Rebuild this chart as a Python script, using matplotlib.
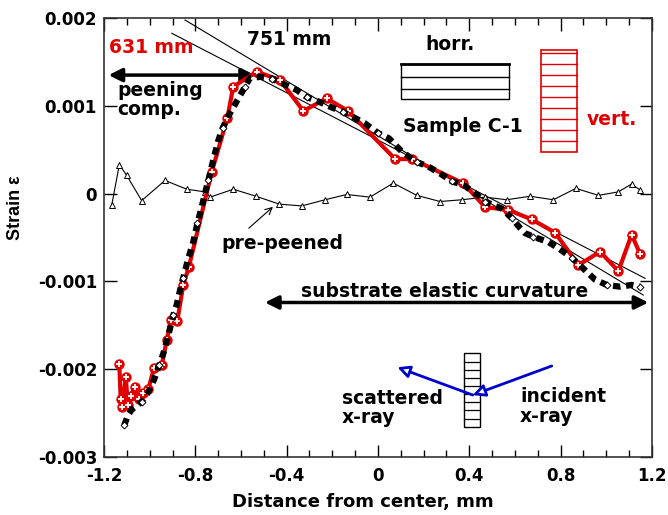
import numpy as np
import matplotlib
matplotlib.use('Agg')
import matplotlib.pyplot as plt
from matplotlib.patches import Rectangle

plt.rcParams['font.family'] = ['DejaVu Sans']
plt.rcParams['font.weight'] = 'bold'

# 631 mm (vert.) red series
x_631 = [-1.133, -1.127, -1.120, -1.105, -1.095, -1.082, -1.066, -1.045, -1.028, -1.006,
         -0.981, -0.947, -0.925, -0.907, -0.879, -0.853, -0.828, -0.728, -0.660, -0.634,
         -0.531, -0.429, -0.327, -0.225, -0.131, 0.075, 0.149, 0.374, 0.469, 0.571,
         0.673, 0.775, 0.878, 0.973, 1.053, 1.111, 1.148]
y_631 = [-1.944, -2.339, -2.427, -2.092, -2.408, -2.305, -2.199, -2.343, -2.268, -2.226,
         -1.990, -1.952, -1.667, -1.440, -1.451, -1.041, -0.833, 0.249, 0.858, 1.218,
         1.388, 1.294, 0.941, 1.085, 0.941, 0.394, 0.394, 0.117, -0.153, -0.187,
         -0.293, -0.443, -0.813, -0.662, -0.882, -0.466, -0.688]

# 751 mm (horr.) black series
x_751 = [-1.112, -1.094, -1.079, -1.035, -1.006, -0.981, -0.958, -0.940, -0.918, -0.896,
         -0.882, -0.867, -0.853, -0.831, -0.809, -0.791, -0.772, -0.758, -0.743, -0.720,
         -0.700, -0.680, -0.656, -0.619, -0.582, -0.560, -0.510, -0.465, -0.407, -0.356,
         -0.312, -0.261, -0.210, -0.153, -0.100, -0.057, 0.000, 0.048, 0.104, 0.169,
         0.219, 0.272, 0.323, 0.374, 0.438, 0.469, 0.505, 0.542, 0.586, 0.622,
         0.644, 0.679, 0.745, 0.789, 0.849, 0.898, 0.951, 1.002, 1.060, 1.111, 1.148]
y_751 = [-2.64, -2.52, -2.46, -2.37, -2.26, -2.12, -1.95, -1.82, -1.61, -1.38,
         -1.27, -1.10, -0.96, -0.74, -0.55, -0.34, -0.15, 0.00, 0.15, 0.40,
         0.60, 0.75, 0.88, 1.05, 1.22, 1.32, 1.33, 1.31, 1.24, 1.18,
         1.10, 1.05, 0.99, 0.93, 0.86, 0.80, 0.69, 0.63, 0.48, 0.36,
         0.31, 0.23, 0.14, 0.10, -0.02, -0.09, -0.13, -0.17, -0.28, -0.39,
         -0.45, -0.49, -0.55, -0.62, -0.73, -0.85, -0.98, -1.04, -1.06, -1.04, -1.06]

# pre-peened
x_pre = [-1.166, -1.133, -1.101, -1.035, -0.933, -0.837, -0.758, -0.735, -0.634, -0.534,
         -0.432, -0.334, -0.232, -0.137, -0.035, 0.067, 0.170, 0.272, 0.367, 0.469,
         0.564, 0.666, 0.768, 0.867, 0.965, 1.053, 1.111, 1.148]
y_pre = [-0.13, 0.33, 0.21, -0.08, 0.15, 0.05, 0.02, -0.04, 0.05, -0.03,
         -0.12, -0.14, -0.07, -0.01, -0.04, 0.12, -0.02, -0.09, -0.07, -0.04,
         -0.07, -0.03, -0.07, 0.06, -0.02, 0.02, 0.11, 0.04]

# straight-line fits (end points)
fit1_x = [-0.845, 1.162]
fit1_y = [1.977, -1.155]
fit2_x = [-0.903, 1.170]
fit2_y = [1.826, -0.965]

s = 1e-3
fs = 13.5
fig, ax = plt.subplots(figsize=(6.68, 5.15), dpi=100)
fig.subplots_adjust(left=0.1557, right=0.976, bottom=0.1126, top=0.965)

ax.plot(fit1_x, np.array(fit1_y) * s, color='k', lw=0.8, zorder=2)
ax.plot(fit2_x, np.array(fit2_y) * s, color='k', lw=0.8, zorder=2)

ax.plot(x_pre, np.array(y_pre) * s, color='k', lw=0.8, marker='^', ms=5,
        mfc='white', mec='k', mew=0.7, zorder=3)

ax.plot(x_631, np.array(y_631) * s, color='#e00000', lw=3, marker='o', ms=6.5,
        mfc='#e00000', mec='#e00000', zorder=4)
ax.plot(x_631, np.array(y_631) * s, ls='none', marker='+', ms=4, mew=1.3,
        color='white', zorder=5)

ax.plot(x_751, np.array(y_751) * s, color='k', lw=4.5, ls=(0, (1.2, 0.9)), zorder=6)
ax.plot(x_751[::3], np.array(y_751[::3]) * s, ls='none', marker='D', ms=3.5,
        mfc='white', mec='k', mew=0.7, zorder=7)

ax.set_xlim(-1.2, 1.2)
ax.set_ylim(-0.003, 0.002)
ax.set_xticks([-1.2, -0.8, -0.4, 0, 0.4, 0.8, 1.2])
ax.set_xticklabels(['-1.2', '-0.8', '-0.4', '0', '0.4', '0.8', '1.2'])
ax.set_xticks(np.arange(-1.2, 1.21, 0.1), minor=True)
ax.set_yticks([-0.003, -0.002, -0.001, 0, 0.001, 0.002])
ax.set_yticklabels(['-0.003', '-0.002', '-0.001', '0', '0.001', '0.002'])
ax.tick_params(which='both', direction='in', top=True, right=True, labelsize=12, width=1)
ax.tick_params(which='major', length=9)
ax.tick_params(which='minor', length=5)
ax.tick_params(axis='x', pad=7)
ax.tick_params(axis='y', pad=5)
for sp in ax.spines.values():
    sp.set_linewidth(1.2)
    sp.set_color('#333333')

ax.set_xlabel('Distance from center, mm', fontsize=13, fontweight='bold')
ax.xaxis.set_label_coords(0.473, -0.082)
ax.set_ylabel('Strain ε', fontsize=13, fontweight='bold', family='Liberation Sans')
ax.yaxis.set_label_coords(-0.146, 0.569)

# annotations
ax.text(-1.18, 0.00166, '631 mm', color='#e00000', fontsize=fs, fontweight='bold', va='center')
ax.text(-0.574, 0.00175, '751 mm', color='k', fontsize=fs, fontweight='bold', va='center')
ax.annotate('', xy=(-1.18, 0.00135), xytext=(-0.539, 0.00135),
            arrowprops=dict(arrowstyle='<|-|>', lw=2.5, color='k', mutation_scale=20,
                            shrinkA=0, shrinkB=0))
ax.text(-1.143, 0.00128, 'peening\ncomp.', fontsize=fs, fontweight='bold', va='top',
        linespacing=1.0)

ax.text(0.316, 0.0017, 'horr.', fontsize=fs, fontweight='bold', ha='center', va='center')
ax.add_patch(Rectangle((0.10, 0.001074), 0.474, 0.000402, fill=False, ec='k', lw=1.0))
ax.plot([0.10, 0.574], [0.001476, 0.001476], color='k', lw=2)
for yy in [0.001325, 0.001188]:
    ax.plot([0.10, 0.574], [yy, yy], color='k', lw=1.0)
ax.text(0.372, 0.000764, 'Sample C-1', fontsize=fs, fontweight='bold', ha='center', va='center')

ax.add_patch(Rectangle((0.713, 0.00047), 0.16, 0.001166, fill=False, ec='#e00000', lw=1.2))
for yy in np.linspace(0.001605, 0.000605, 9):
    ax.plot([0.713, 0.873], [yy, yy], color='#e00000', lw=1.0)
ax.text(1.025, 0.000844, 'vert.', color='#e00000', fontsize=fs, fontweight='bold',
        ha='center', va='center')

ax.annotate('', xy=(-0.451, -0.00013), xytext=(-0.575, -0.000415),
            arrowprops=dict(arrowstyle='->', lw=0.8, color='k', mutation_scale=12))
ax.text(-0.684, -0.000568, 'pre-peened', fontsize=fs, fontweight='bold', va='center')

ax.text(0.294, -0.00112, 'substrate elastic curvature', fontsize=fs, fontweight='bold',
        ha='center', va='center')
ax.annotate('', xy=(-0.495, -0.00124), xytext=(1.184, -0.00124),
            arrowprops=dict(arrowstyle='<|-|>', lw=2.5, color='k', mutation_scale=20,
                            shrinkA=0, shrinkB=0))

ax.text(-0.159, -0.00222, 'scattered\nx-ray', fontsize=fs, fontweight='bold', va='top',
        linespacing=1.05)
ax.text(0.622, -0.0022, 'incident\nx-ray', fontsize=fs, fontweight='bold', va='top',
        linespacing=1.05)

ax.add_patch(Rectangle((0.378, -0.002655), 0.069, 0.000835, fill=False, ec='k', lw=1.0))
for yy in np.linspace(-0.00182, -0.002655, 10)[1:-1]:
    ax.plot([0.378, 0.447], [yy, yy], color='k', lw=0.9)

ax.annotate('', xy=(0.415, -0.002294), xytext=(0.761, -0.001963),
            arrowprops=dict(arrowstyle='-|>', lw=2, ec='#0000cc', fc='white',
                            mutation_scale=18, shrinkA=0, shrinkB=0))
ax.annotate('', xy=(0.085, -0.001978), xytext=(0.415, -0.002294),
            arrowprops=dict(arrowstyle='-|>', lw=2, ec='#0000cc', fc='white',
                            mutation_scale=18, shrinkA=0, shrinkB=0))

fig.savefig('out.png', dpi=100)
